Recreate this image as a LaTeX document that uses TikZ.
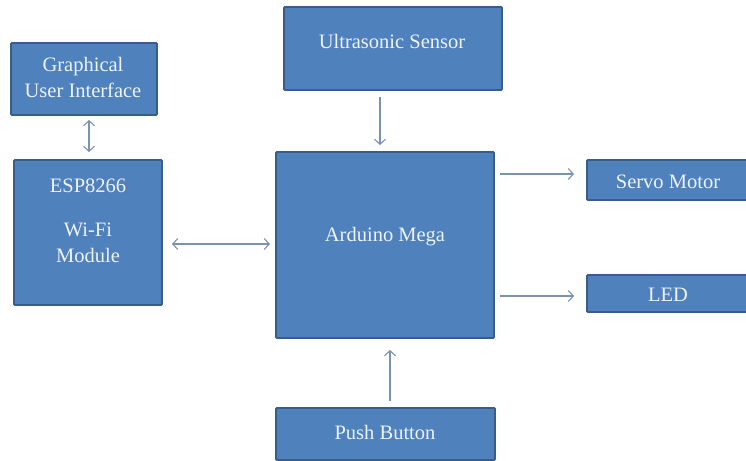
\documentclass[tikz,border=0pt]{standalone}
\usepackage{fontspec}
\setmainfont{Liberation Serif}
\usetikzlibrary{arrows.meta}
\definecolor{boxfill}{HTML}{4F81BD}
\definecolor{boxline}{HTML}{385D8A}
\definecolor{arrowc}{HTML}{7A92B2}
\definecolor{txt}{HTML}{EEF3FA}
\tikzset{
  blk/.style={draw=boxline, fill=boxfill, line width=1.8pt, rounded corners=1pt, inner sep=0pt},
  lbl/.style={text=txt, font=\fontsize{20.5}{26}\selectfont, align=center, inner sep=0pt},
  conn/.style={draw=arrowc, line width=1.1pt, -{Straight Barb[length=5pt,width=11pt]}},
  conn2/.style={draw=arrowc, line width=1.1pt, {Straight Barb[length=5pt,width=11pt]}-{Straight Barb[length=5pt,width=11pt]}}
}
\begin{document}
\begin{tikzpicture}[x=1pt,y=-1pt]
\useasboundingbox (0,0) rectangle (746,460);
% boxes
\node[blk, minimum width=146pt, minimum height=72pt] (gui) at (84,79) {};
\node[blk, minimum width=148pt, minimum height=145pt] (esp) at (88,232.5) {};
\node[blk, minimum width=218pt, minimum height=83pt] (us) at (393,48.5) {};
\node[blk, minimum width=218pt, minimum height=186pt] (ard) at (385,245) {};
\node[blk, minimum width=162pt, minimum height=40pt] (servo) at (668,180) {};
\node[blk, minimum width=162pt, minimum height=37pt] (led) at (668,293.5) {};
\node[blk, minimum width=219pt, minimum height=52pt] (pb) at (385.5,434) {};
% texts
\node[lbl] (guit) at (83,77) {Graphical\\User Interface};
\node[lbl] (espt1) at (88,186) {ESP8266};
\node[lbl] (espt2) at (88,243) {Wi-Fi\\Module};
\node[lbl] (ust) at (392,41) {Ultrasonic Sensor};
\node[lbl] (ardt) at (385,237) {Arduino Mega};
\node[lbl] (servot) at (668,182) {Servo Motor};
\node[lbl] (ledt) at (668,295) {LED};
\node[lbl] (pbt) at (385,432) {Push Button};
% connector end points
\coordinate (g1) at (89,120);
\coordinate (g2) at (89,152);
\coordinate (u1) at (380,97);
\coordinate (u2) at (380,145);
\coordinate (e1) at (172,244);
\coordinate (e2) at (270,244);
\coordinate (s1) at (500,174);
\coordinate (s2) at (574,174);
\coordinate (l1) at (500,296);
\coordinate (l2) at (574,296);
\coordinate (p1) at (390,401);
\coordinate (p2) at (390,350);
\draw[conn2] (g1) -- (g2);
\draw[conn] (u1) -- (u2);
\draw[conn2] (e1) -- (e2);
\draw[conn] (s1) -- (s2);
\draw[conn] (l1) -- (l2);
\draw[conn] (p1) -- (p2);
\end{tikzpicture}
\end{document}
